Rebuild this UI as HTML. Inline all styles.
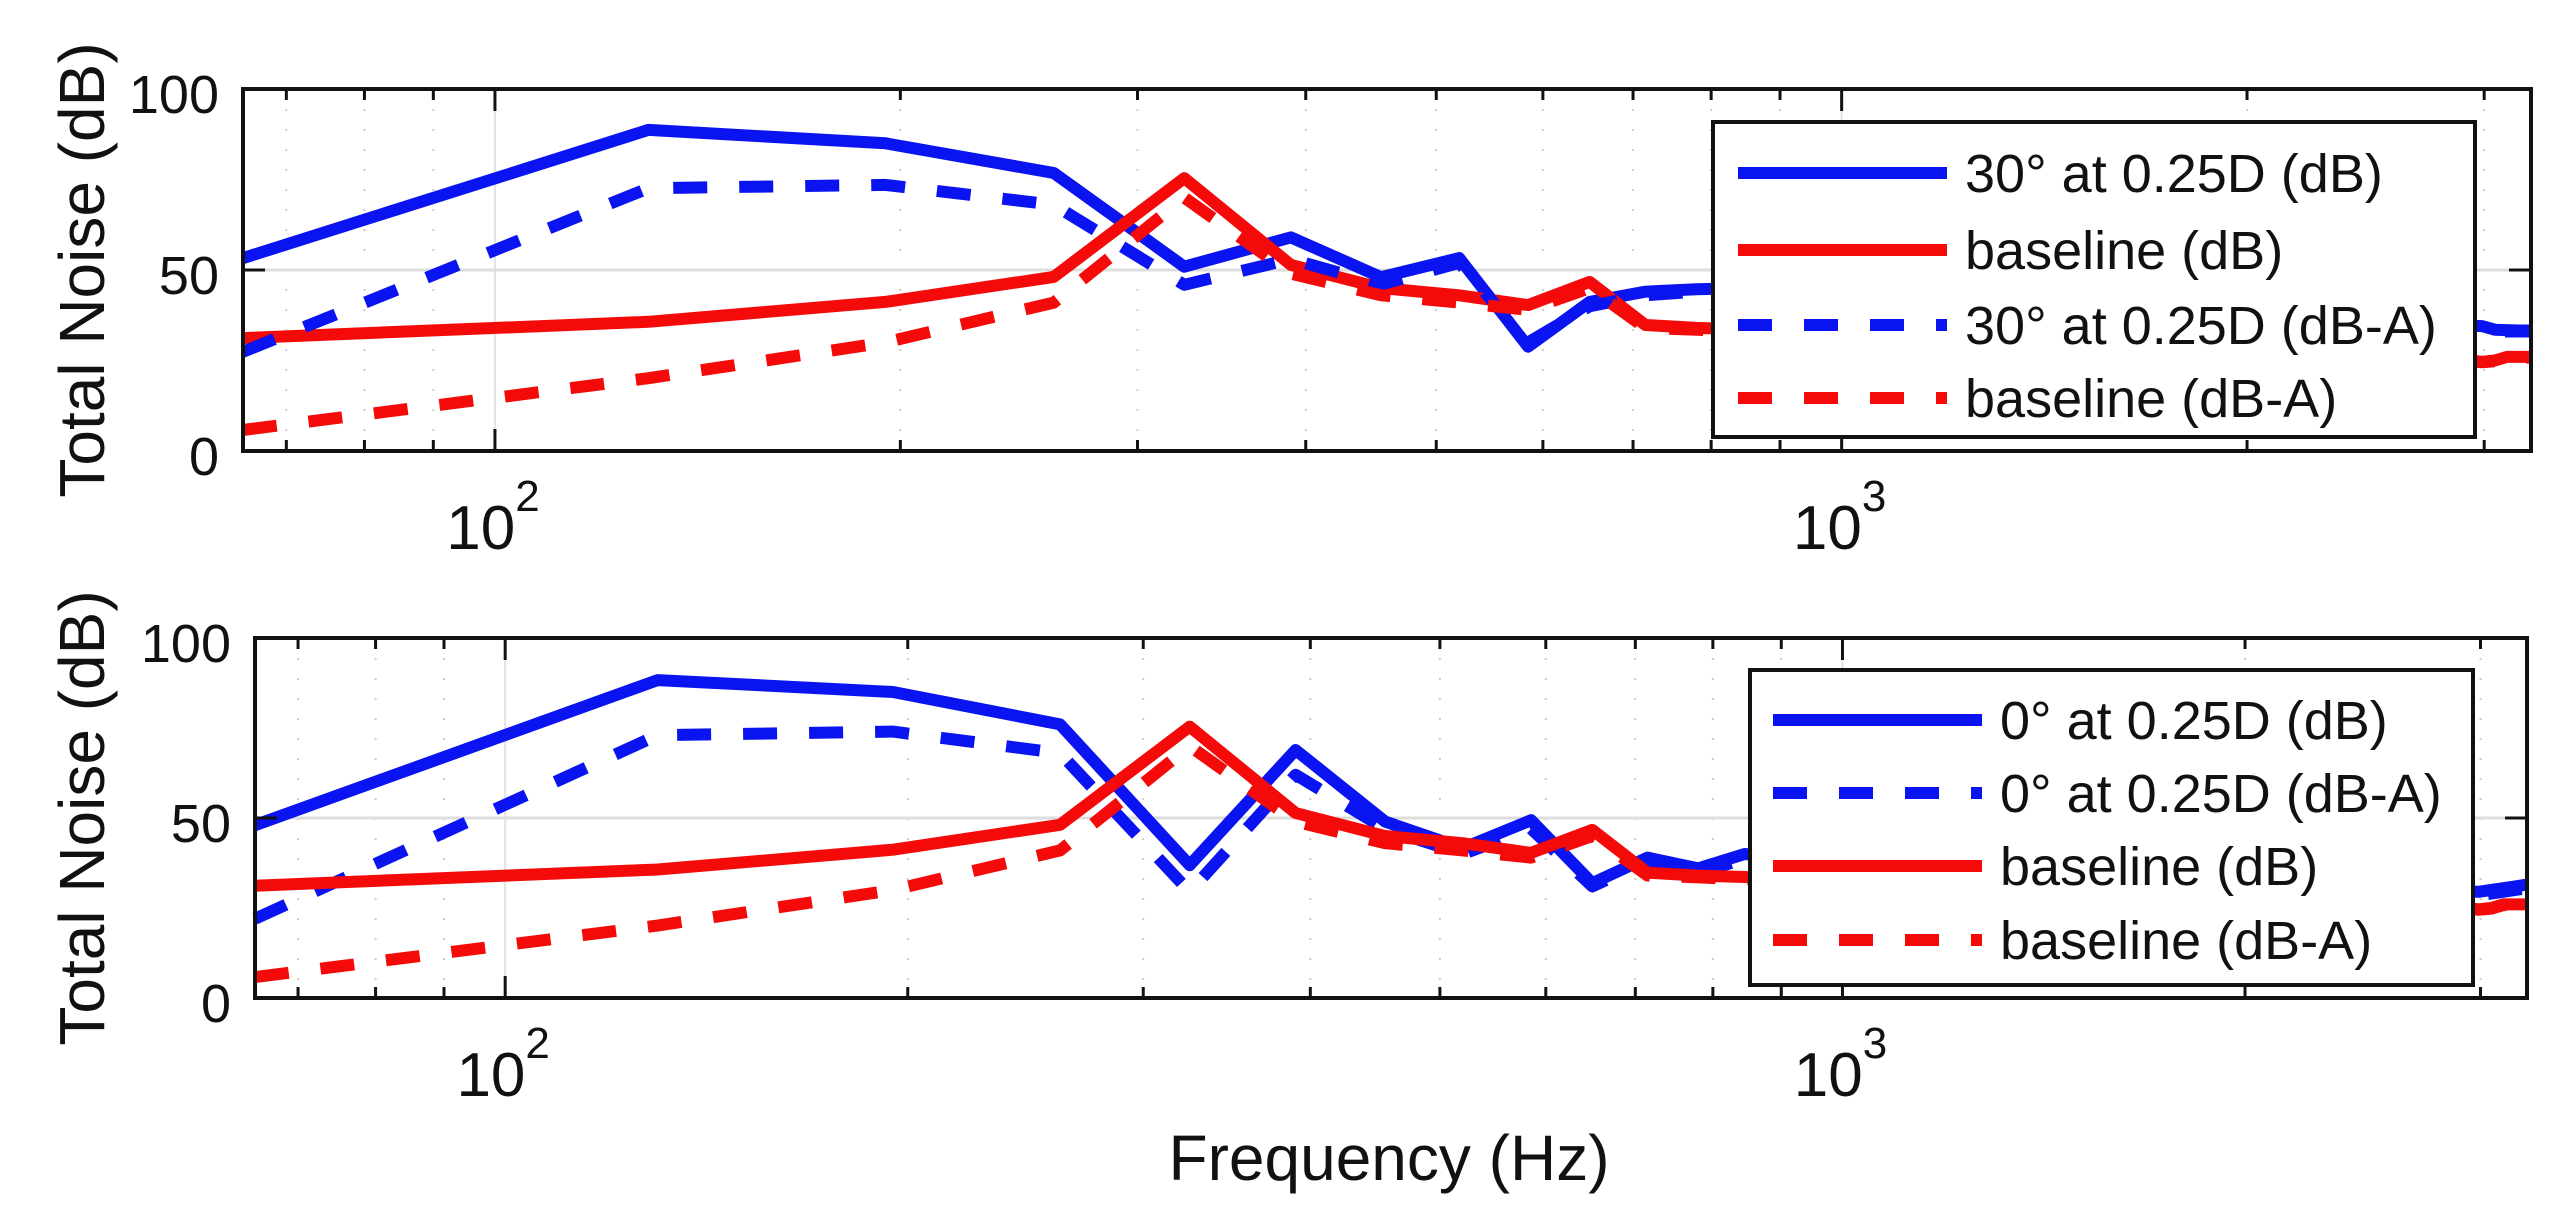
<!DOCTYPE html>
<html><head><meta charset="utf-8"><style>
html,body{margin:0;padding:0;background:#fff;}
svg{display:block;font-family:"Liberation Sans",sans-serif;}
</style></head><body>
<svg id="fig" width="2562" height="1213" viewBox="0 0 2562 1213">
<rect x="0" y="0" width="2562" height="1213" fill="#fff"/>
</svg>
<script>
const freqs = [65,130,195,260,325,390,455,520,585,650,715,780,845,975,1300,1625,1950,2275,2600,2925,2990,3055,3120,3185,3250];
const topBlueDb = [53.3,88.7,85,76.8,50.9,59,48,53.3,28.8,41.2,44,44.7,45,43,40,38,37,36,35,34.6,34.5,33.5,33.4,33.3,33.3];
const topBlueDbA = [27.4,72.6,73.5,68,45.9,53,46,52,30,40,43,44,44.5,42.5,39.5,37.5,36.5,35.5,34.5,34,34,33,33,33,33];
const baselineDb = [31.2,35.7,41.2,48.1,75.4,51.4,45,43,40.3,46.7,34.8,34,33.6,32.5,31,29.5,28,27,26,25,24.6,25,26,26,26];
const baselineDbA = [5.8,20.1,30,41,70,49,43,41,39,45,34,33.5,33,32,30.5,29,27.5,26.5,25.5,24.8,24.5,24.8,25.8,25.8,25.8];
const botBlueDb = [48,88.3,85,76,36.9,68.9,49,41.6,49.4,31.9,39,36,40,38,35,33,32,31,30,29.6,29.5,30,30.5,31,31.5];
const botBlueDbA = [22,73,74,68,29.5,62,47,40,47,31,38,35,38.5,37,34,32,31,30,29,28.5,28.5,29,29.5,30,30.5];
const yTicks = [0,50,100];
const yTickLabels = ["0","50","100"];
const minorFreqs = [70,80,90,200,300,400,500,600,700,800,900,2000,3000];
const majorFreqs = [100,1000];
const majorLabels = ["2","3"];
const topLegend = ["30° at 0.25D (dB)","baseline (dB)","30° at 0.25D (dB-A)","baseline (dB-A)"];
const botLegend = ["0° at 0.25D (dB)","0° at 0.25D (dB-A)","baseline (dB)","baseline (dB-A)"];

const NS="http://www.w3.org/2000/svg";
const svg=document.getElementById('fig');
function el(tag,attrs,parent){const e=document.createElementNS(NS,tag);for(const k in attrs)e.setAttribute(k,attrs[k]);(parent||svg).appendChild(e);return e;}

function drawAxes(cfg){
  const g=el('g',{});
  
  
  const fmin=65,fmax=3250;
  const xs=f=>cfg.x0+(Math.log10(f)-Math.log10(fmin))/(Math.log10(fmax)-Math.log10(fmin))*(cfg.x1-cfg.x0);
  const ys=v=>cfg.y1-(v/100)*(cfg.y1-cfg.y0);
  minorFreqs.forEach(f=>{const l=el('line',{x1:xs(f),x2:xs(f),y1:cfg.y0,y2:cfg.y1,stroke:'#ccc','stroke-width':2,'stroke-dasharray':'2 18'},g);
    
    });
  majorFreqs.forEach(f=>{const l=el('line',{x1:xs(f),x2:xs(f),y1:cfg.y0,y2:cfg.y1,stroke:'#e2e2e2','stroke-width':2},g);
    
    });
  const hg=el('line',{x1:cfg.x0,x2:cfg.x1,y1:ys(50),y2:ys(50),stroke:'#ddd','stroke-width':3},g);
  
  
  cfg.series.forEach(s=>{
    const d=freqs.map((f,i)=>(i?'L':'M')+xs(f).toFixed(1)+' '+ys(s.data[i]).toFixed(1)).join(' ');
    const p=el('path',{d:d,fill:'none',stroke:s.color,'stroke-width':12,'stroke-linejoin':'round','stroke-dasharray':s.dash?'34 32':'none'},g);
    
    
  });
  const tk=el('g',{stroke:'#111','stroke-width':3},g);
  
  
  minorFreqs.forEach(f=>{el('line',{x1:xs(f),x2:xs(f),y1:cfg.y1,y2:cfg.y1-11},tk);el('line',{x1:xs(f),x2:xs(f),y1:cfg.y0,y2:cfg.y0+11},tk);});
  majorFreqs.forEach(f=>{el('line',{x1:xs(f),x2:xs(f),y1:cfg.y1,y2:cfg.y1-22},tk);el('line',{x1:xs(f),x2:xs(f),y1:cfg.y0,y2:cfg.y0+22},tk);});
  yTicks.forEach(v=>{el('line',{x1:cfg.x0,x2:cfg.x0+22,y1:ys(v),y2:ys(v)},tk);el('line',{x1:cfg.x1,x2:cfg.x1-22,y1:ys(v),y2:ys(v)},tk);});
  const b=el('rect',{x:cfg.x0,y:cfg.y0,width:cfg.x1-cfg.x0,height:cfg.y1-cfg.y0,fill:'none',stroke:'#111','stroke-width':4},g);
  
  
  yTicks.forEach((v,i)=>{const t=el('text',{x:cfg.x0-24,y:ys(v)+24,'font-size':54,'text-anchor':'end',fill:'#111'},g);t.textContent=yTickLabels[i];
    
    });
  majorFreqs.forEach((f,i)=>{const t=el('text',{x:xs(f)-2,y:cfg.y1+98,'font-size':62,'text-anchor':'middle',fill:'#111'},g);
    t.textContent='10';
    const sp=el('tspan',{'font-size':44,dy:-38},t);sp.textContent=majorLabels[i];
    
    });
  const yl=el('text',{x:0,y:0,'font-size':64,'text-anchor':'middle',fill:'#111',transform:`translate(104 ${(cfg.y0+cfg.y1)/2}) rotate(-90)`},g);
  yl.textContent='Total Noise (dB)';
  
  
  const L=cfg.legend;
  const lg=el('g',{},g);
  
  
  el('rect',{x:L.x0,y:L.y0,width:L.x1-L.x0,height:L.y1-L.y0,fill:'#fff',stroke:'#111','stroke-width':4},lg);
  L.labels.forEach((lab,i)=>{
    const s=cfg.series[L.order[i]];
    const ry=L.rows[i];
    const ln=el('line',{x1:L.sx0,x2:L.sx1,y1:ry,y2:ry,stroke:s.color,'stroke-width':12,'stroke-dasharray':s.dash?'34 32':'none'},lg);
    
    
    const t=el('text',{x:L.tx,y:ry+19,'font-size':54,fill:'#111'},lg);
    t.textContent=lab;
    
    
  });
}

drawAxes({name:'top-axes',x0:243,x1:2531,y0:89,y1:451,
  series:[{name:'top-30deg-db',data:topBlueDb,color:'#0a14f0',dash:false},
          {name:'top-baseline-db',data:baselineDb,color:'#f50a0a',dash:false},
          {name:'top-30deg-dba',data:topBlueDbA,color:'#0a14f0',dash:true},
          {name:'top-baseline-dba',data:baselineDbA,color:'#f50a0a',dash:true}],
  legend:{x0:1713,x1:2475,y0:122,y1:437,sx0:1738,sx1:1947,tx:1965,rows:[173,250,325,398],labels:topLegend,order:[0,1,2,3]}});
drawAxes({name:'bottom-axes',x0:255,x1:2527,y0:638,y1:998,
  series:[{name:'bottom-0deg-db',data:botBlueDb,color:'#0a14f0',dash:false},
          {name:'bottom-0deg-dba',data:botBlueDbA,color:'#0a14f0',dash:true},
          {name:'bottom-baseline-db',data:baselineDb,color:'#f50a0a',dash:false},
          {name:'bottom-baseline-dba',data:baselineDbA,color:'#f50a0a',dash:true}],
  legend:{x0:1750,x1:2473,y0:670,y1:985,sx0:1773,sx1:1982,tx:2000,rows:[720,793,866,940],labels:botLegend,order:[0,1,2,3]}});

const xl=el('text',{x:1389,y:1180,'font-size':64,'text-anchor':'middle',fill:'#111'});
xl.textContent='Frequency (Hz)';


</script>
</body></html>
